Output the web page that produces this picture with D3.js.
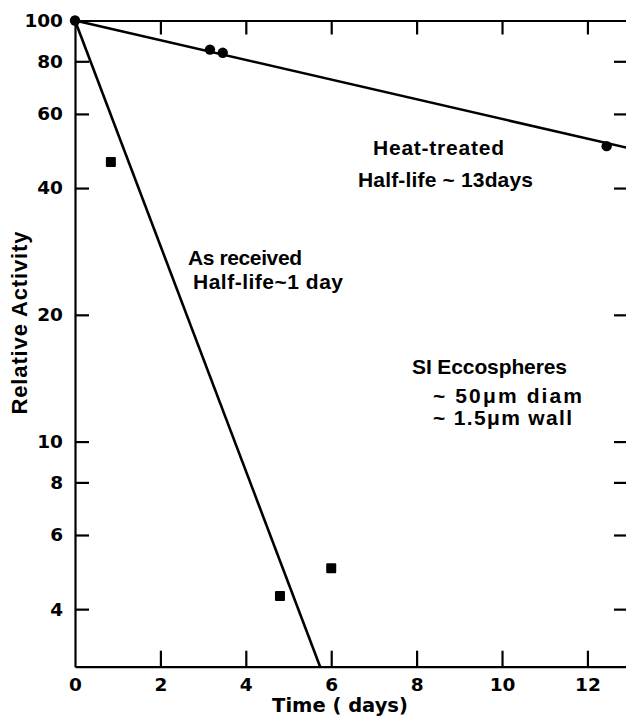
<!DOCTYPE html>
<html>
<head>
<meta charset="utf-8">
<script src="https://cdn.jsdelivr.net/npm/d3@7"></script>
<style>
  body { margin: 0; background: #fff; }
  svg { display: block; }
</style>
</head>
<body>
<div id="chart"></div>
<script>
// heat-treated samples (circles)
var heatDays = [0, 3.16, 3.46, 12.45];
var heatActivity = [100, 85.3, 83.8, 50.3];
// as received samples (squares)
var rawDays = [0.84, 4.80, 6.0];
var rawActivity = [46.1, 4.30, 5.0];
// fitted lines, [day, activity] end points
var heatFit = [[0, 100], [12.95, 49.8]];
var rawFit = [[0, 100], [5.74, 2.92]];
// ticks
var xTicks = [0, 2, 4, 6, 8, 10, 12];
var yTicks = [4, 6, 8, 10, 20, 40, 60, 80, 100];

var W = 626, H = 721;
var plotL = 75, plotR = 628, plotT = 20.5, plotB = 666.7;

var svg = d3.select("#chart").append("svg")
    .attr("width", W).attr("height", H);

var x = d3.scaleLinear().domain([0, 12.95]).range([plotL, plotR]);
var y = d3.scaleLog().domain([2.92, 100]).range([plotB, plotT]);

var digitFont = "'DejaVu Sans', sans-serif";
var textFont = "'Liberation Sans', Arial, sans-serif";

function styleAxis(g) {
    g.select(".domain").attr("stroke", "#000").attr("stroke-width", 2.2);
    g.selectAll(".tick line").attr("stroke", "#000").attr("stroke-width", 2.2);
    g.selectAll(".tick text")
        .attr("fill", "#000")
        .attr("font-family", digitFont)
        .attr("font-weight", "bold")
        .attr("font-size", 18.5);
}

//axes : ticks pointing inward on all four sides
var gBottom = svg.append("g")
    .attr("transform", "translate(0," + plotB + ")")
    .call(d3.axisBottom(x).tickValues(xTicks).tickSizeInner(-16).tickSizeOuter(0).tickPadding(11));
styleAxis(gBottom);
gBottom.selectAll(".tick").filter(function(d){ return d === 0; }).select("line").remove();

var gTop = svg.append("g")
    .attr("transform", "translate(0," + plotT + ")")
    .call(d3.axisTop(x).tickValues(xTicks.filter(function(d){ return d > 0; }))
        .tickSizeInner(-14).tickSizeOuter(0).tickFormat(""));
styleAxis(gTop);

var gLeft = svg.append("g")
    .attr("transform", "translate(" + plotL + ",0)")
    .call(d3.axisLeft(y).tickValues(yTicks).tickSizeInner(-14).tickSizeOuter(0)
        .tickPadding(12).tickFormat(d3.format("d")));
styleAxis(gLeft);
gLeft.selectAll(".tick").filter(function(d){ return d === 100; }).select("line").remove();

var gRight = svg.append("g")
    .attr("transform", "translate(" + plotR + ",0)")
    .call(d3.axisRight(y).tickValues(yTicks.filter(function(d){ return d < 100; }))
        .tickSizeInner(-14).tickSizeOuter(0).tickFormat(""));
styleAxis(gRight);

//axis titles
svg.append("text")
    .attr("x", 340).attr("y", 712)
    .attr("text-anchor", "middle")
    .attr("font-family", digitFont).attr("font-weight", "bold").attr("font-size", 19.5)
    .text("Time ( days)");

svg.append("text")
    .attr("transform", "translate(27,323) rotate(-90)")
    .attr("text-anchor", "middle")
    .attr("font-family", textFont).attr("font-weight", "bold").attr("font-size", 22)
    .attr("textLength", 183).attr("lengthAdjust", "spacing")
    .text("Relative Activity");

//fitted lines
var line = d3.line()
    .x(function(d){ return x(d[0]); })
    .y(function(d){ return y(d[1]); });

svg.append("path").datum(heatFit)
    .attr("d", line).attr("fill", "none").attr("stroke", "#000").attr("stroke-width", 2.6);
svg.append("path").datum(rawFit)
    .attr("d", line).attr("fill", "none").attr("stroke", "#000").attr("stroke-width", 2.6);

//points
svg.append("g").selectAll("circle")
    .data(d3.range(heatDays.length))
    .enter().append("circle")
    .attr("cx", function(i){ return x(heatDays[i]); })
    .attr("cy", function(i){ return y(heatActivity[i]); })
    .attr("r", 5.2)
    .attr("fill", "#000");

svg.append("g").selectAll("rect")
    .data(d3.range(rawDays.length))
    .enter().append("rect")
    .attr("x", function(i){ return x(rawDays[i]) - 5; })
    .attr("y", function(i){ return y(rawActivity[i]) - 5; })
    .attr("width", 10).attr("height", 10)
    .attr("rx", 1)
    .attr("fill", "#000");

//annotations (w = width of the lettering in the figure)
var notes = [
    { t: "Heat-treated", px: 373, py: 155, w: 131 },
    { t: "Half-life ~ 13days", px: 358, py: 187, w: 175 },
    { t: "As received", px: 188, py: 265, w: 114 },
    { t: "Half-life~1 day", px: 193, py: 289, w: 150 },
    { t: "SI Eccospheres", px: 412, py: 374, w: 155 },
    { t: "~ 50\u03bcm diam", px: 433, py: 403, w: 149 },
    { t: "~ 1.5\u03bcm wall", px: 433, py: 425, w: 139 }
];
svg.append("g").selectAll("text")
    .data(notes)
    .enter().append("text")
    .attr("x", function(d){ return d.px; })
    .attr("y", function(d){ return d.py; })
    .attr("font-family", textFont).attr("font-weight", "bold").attr("font-size", 21)
    .attr("textLength", function(d){ return d.w; })
    .attr("lengthAdjust", "spacing")
    .text(function(d){ return d.t; });
</script>
</body>
</html>
